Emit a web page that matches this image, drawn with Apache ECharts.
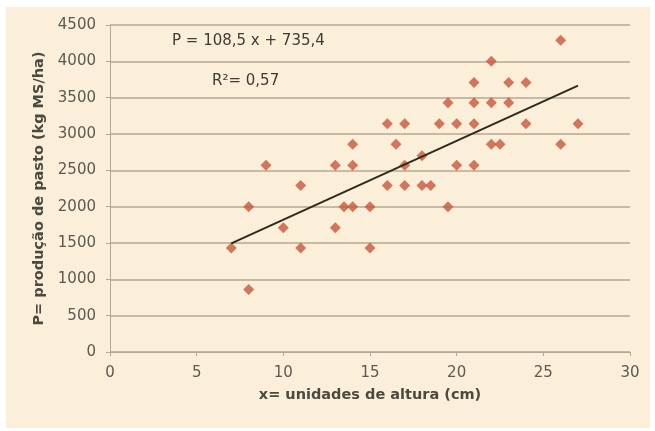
<!DOCTYPE html>
<html>
<head>
<meta charset="utf-8">
<script src="https://cdn.jsdelivr.net/npm/echarts@6/dist/echarts.min.js"></script>
<style>
  html, body { margin: 0; padding: 0; background: #fff; }
  .outer { position: relative; width: 655px; height: 431px; background: #fff; }
  #chart { position: absolute; left: 6px; top: 7px; width: 644px; height: 421px; background: #fcefd9; }
</style>
</head>
<body>
<div class="outer"><div id="chart"></div></div>
<script>
// altura (cm) e produção de pasto (kg MS/ha)
const alturaCm = [7, 8, 8, 9, 10, 11, 11, 13, 13, 13.5, 14, 14, 14, 15, 15, 16, 16, 16.5, 17, 17, 17, 18, 18.5, 18, 19, 19.5, 19.5, 20, 20, 21, 21, 21, 21, 22, 22.5, 22, 22, 23, 23, 24, 24, 26, 26, 27];
const producao = [1430, 860, 2000, 2570, 1710, 1430, 2290, 1710, 2570, 2000, 2000, 2570, 2860, 1430, 2000, 2290, 3140, 2860, 2290, 2570, 3140, 2290, 2290, 2700, 3140, 2000, 3430, 2570, 3140, 2570, 3140, 3430, 3710, 2860, 2860, 3430, 4000, 3430, 3710, 3140, 3710, 2860, 4290, 3140];

// linha de tendência (extremos)
const trendX = [7, 27];
const trendY = [1495, 3665];

const eqText = "P = 108,5 x + 735,4";
const r2Text = "R²= 0,57";

const FONT = "DejaVu Sans";
const lineCol = "#b5a892";

const myChart = echarts.init(document.getElementById("chart"));

const option = {
  backgroundColor: "#fcefd9",
  animation: false,
  grid: { left: 104, top: 18, right: 20, bottom: 76 },
  xAxis: {
    type: "value",
    min: 0,
    max: 30,
    interval: 5,
    name: "x= unidades de altura (cm)",
    nameLocation: "middle",
    nameGap: 36,
    nameTextStyle: { fontFamily: FONT, fontSize: 14.5, fontWeight: "bold", color: "#4a4a40" },
    axisLine: { lineStyle: { color: lineCol, width: 1 } },
    axisTick: { show: true, length: 4, lineStyle: { color: lineCol } },
    axisLabel: { fontFamily: FONT, fontSize: 15, color: "#5a5a52", margin: 14 },
    splitLine: { show: false }
  },
  yAxis: {
    type: "value",
    min: 0,
    max: 4500,
    interval: 500,
    name: "P= produção de pasto (kg MS/ha)",
    nameLocation: "middle",
    nameGap: 62,
    nameTextStyle: { fontFamily: FONT, fontSize: 14.5, fontWeight: "bold", color: "#4a4a40" },
    axisLine: { show: true, lineStyle: { color: lineCol, width: 1 } },
    axisTick: { show: true, length: 4, lineStyle: { color: lineCol } },
    axisLabel: { fontFamily: FONT, fontSize: 15, color: "#5a5a52", margin: 14, formatter: (v) => String(v) },
    splitLine: { lineStyle: { color: lineCol, width: 1.5 } }
  },
  graphic: [
    {
      type: "text",
      left: 166,
      top: 27,
      style: { text: eqText, font: "15px 'DejaVu Sans'", fill: "#3c3c36" }
    },
    {
      type: "text",
      left: 206,
      top: 67,
      style: { text: r2Text, font: "15px 'DejaVu Sans'", fill: "#3c3c36" }
    }
  ],
  series: [
    {
      name: "pontos",
      type: "scatter",
      symbol: "diamond",
      symbolSize: 11,
      itemStyle: { color: "#c8563a" },
      data: alturaCm.map((x, i) => [x, producao[i]])
    },
    {
      name: "tendência",
      type: "line",
      symbol: "none",
      lineStyle: { color: "#2b2b1e", width: 2 },
      data: trendX.map((x, i) => [x, trendY[i]]),
      z: 3
    }
  ]
};

myChart.setOption(option);
</script>
</body>
</html>
